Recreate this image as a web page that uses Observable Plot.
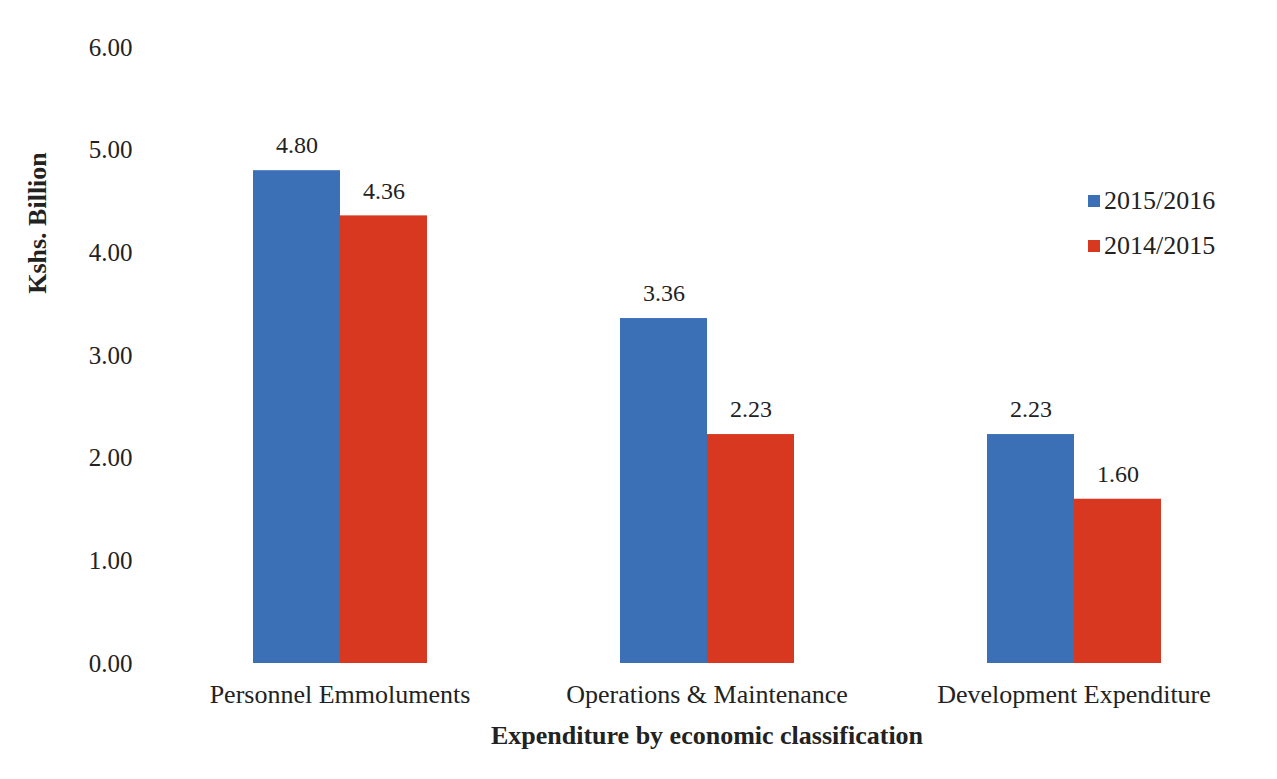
<!DOCTYPE html>
<html><head><meta charset="utf-8">
<script src="https://cdn.jsdelivr.net/npm/d3@7"></script>
<script src="https://cdn.jsdelivr.net/npm/@observablehq/plot@0.6"></script>
<style>
body{margin:0;background:#fff;}
#wrap{position:relative;width:1277px;height:779px;font-family:"Liberation Serif","Times New Roman",serif;color:#222;}
#wrap svg{position:absolute;left:0;top:0;}
#ylabel{position:absolute;left:38px;top:223px;transform:translate(-50%,-50%) rotate(-90deg);font-weight:bold;font-size:26px;white-space:nowrap;}
#legend{position:absolute;left:1088px;top:178px;font-size:26px;font-family:"Liberation Serif","Times New Roman",serif;}
#legend .item{display:flex;align-items:center;height:45px;}
#legend .sw{width:12px;height:12px;margin-right:4px;}
g[aria-label="fx-axis label"] text{font-weight:bold;font-size:26px;}
g[aria-label="fx-axis tick label"] text{font-size:26px;}
g[aria-label="y-axis tick label"] text{font-size:25px;}
</style></head><body><div id="wrap"></div>
<script>
const categories = ["Personnel Emmoluments", "Operations & Maintenance", "Development Expenditure"];
const series = ["2015/2016", "2014/2015"];
const values2015_16 = [4.80, 3.36, 2.23];
const values2014_15 = [4.36, 2.23, 1.60];
const colors = ["#3b6fb6", "#d7381f"];
const yTicks = [0, 1, 2, 3, 4, 5, 6];
const xTitle = "Expenditure by economic classification";
const yTitle = "Kshs. Billion";

const data = categories.flatMap((c, i) => [
  {category: c, series: series[0], value: values2015_16[i]},
  {category: c, series: series[1], value: values2014_15[i]}
]);

const plot = Plot.plot({
  width: 1277, height: 779,
  marginTop: 47, marginBottom: 116, marginLeft: 150, marginRight: 15,
  style: {fontFamily: '"Liberation Serif","Times New Roman",serif', fontSize: "24px", color: "#222", background: "transparent", overflow: "visible"},
  fx: {domain: categories, paddingInner: 0.524, paddingOuter: 0.275},
  x: {domain: series, padding: 0, axis: null},
  y: {domain: [0, 6]},
  color: {domain: series, range: colors},
  marks: [
    Plot.axisY({ticks: yTicks, tickFormat: d => d.toFixed(2), tickSize: 0, tickPadding: 120, label: null}),
    Plot.axisFx({anchor: "bottom", tickSize: 0, tickPadding: 21, label: xTitle, labelAnchor: "center", labelOffset: 80}),
    Plot.barY(data, {fx: "category", x: "series", y: "value", fill: "series", inset: 0}),
    Plot.text(data, {fx: "category", x: "series", y: "value", text: d => d.value.toFixed(2), dy: -25, fontSize: 24, fill: "#222"})
  ]
});

const wrap = document.getElementById("wrap");
wrap.appendChild(plot);

const yl = document.createElement("div");
yl.id = "ylabel"; yl.textContent = yTitle;
wrap.appendChild(yl);

const lg = document.createElement("div");
lg.id = "legend";
series.forEach((s, i) => {
  const it = document.createElement("div"); it.className = "item";
  const sw = document.createElement("span"); sw.className = "sw"; sw.style.background = colors[i];
  const tx = document.createElement("span"); tx.textContent = s;
  it.appendChild(sw); it.appendChild(tx); lg.appendChild(it);
});
wrap.appendChild(lg);
</script></body></html>
